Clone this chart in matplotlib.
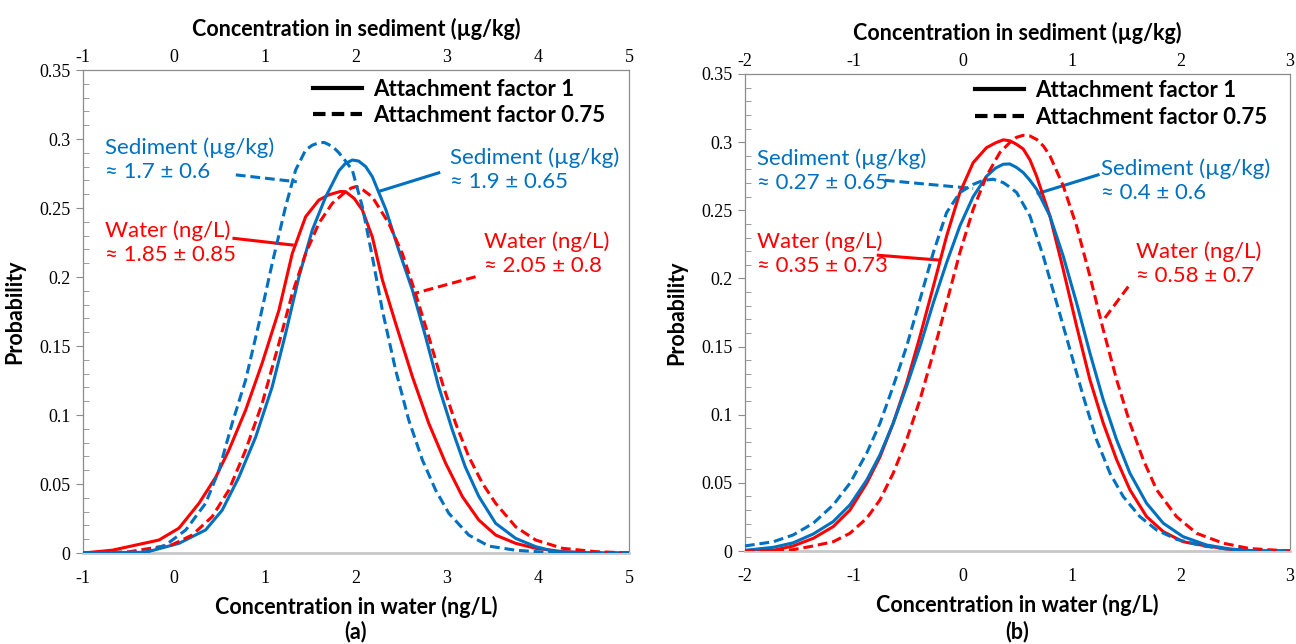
import matplotlib
matplotlib.use("Agg")
import matplotlib.pyplot as plt
from matplotlib.lines import Line2D
from matplotlib.ticker import MultipleLocator

plt.rcParams["axes.unicode_minus"] = False

# ---- panel (a) curves ----
a_water1_x = [-1.0, -0.68, -0.165, 0.055, 0.275, 0.46, 0.604, 0.788, 0.97, 1.154, 1.30, 1.447, 1.593, 1.70, 1.777,
              1.83, 1.887, 1.98, 2.07, 2.18, 2.29, 2.436, 2.62, 2.80, 2.986, 3.17, 3.35, 3.535, 3.755, 3.975,
              4.27, 4.6, 5.0]
a_water1_y = [0.0, 0.002, 0.0094, 0.018, 0.036, 0.055, 0.0746, 0.1036, 0.1377, 0.176, 0.217, 0.2437, 0.2558, 0.2595, 0.261,
              0.262, 0.2618, 0.257, 0.2486, 0.229, 0.198, 0.1664, 0.1278, 0.094, 0.065, 0.0408, 0.0239, 0.013, 0.007, 0.0034,
              0.001, 0.0, 0.0]

a_sed1_x = [-1.0, -0.31, 0.055, 0.348, 0.53, 0.714, 0.898, 1.08, 1.227, 1.374, 1.52, 1.667, 1.813, 1.88, 1.96, 2.03,
            2.107, 2.18, 2.33, 2.47, 2.62, 2.765, 2.91, 3.06, 3.2, 3.35, 3.535, 3.755, 3.975, 4.19, 4.6, 5.0]
a_sed1_y = [0.0, 0.0005, 0.007, 0.0167, 0.031, 0.055, 0.084, 0.1205, 0.159, 0.2002, 0.234, 0.258, 0.277, 0.282, 0.2848, 0.284,
            0.280, 0.2727, 0.2486, 0.2196, 0.1906, 0.1568, 0.1205, 0.089, 0.0626, 0.041, 0.0215, 0.0106, 0.0046, 0.001, 0.0, 0.0]

a_water075_x = [-1.0, -0.5, -0.02, 0.2, 0.42, 0.604, 0.788, 0.97, 1.154, 1.30, 1.447, 1.593, 1.74, 1.887, 1.95, 2.0,
                2.08, 2.18, 2.36, 2.51, 2.655, 2.80, 2.95, 3.095, 3.24, 3.39, 3.535, 3.755, 3.975, 4.27, 4.63, 5.0]
a_water075_y = [0.0, 0.0008, 0.006, 0.013, 0.0263, 0.0457, 0.0746, 0.1085, 0.152, 0.188, 0.217, 0.239, 0.2534, 0.2618, 0.2645, 0.2655,
                0.263, 0.258, 0.239, 0.217, 0.188, 0.1568, 0.123, 0.094, 0.0698, 0.0505, 0.036, 0.019, 0.0094, 0.0034, 0.001, 0.0]

a_sed075_x = [-1.0, -0.31, -0.09, 0.13, 0.348, 0.495, 0.64, 0.788, 0.934, 1.08, 1.227, 1.337, 1.447, 1.52, 1.593, 1.65,
              1.70, 1.76, 1.813, 1.88, 1.96, 2.07, 2.18, 2.29, 2.436, 2.58, 2.73, 2.875, 3.02, 3.24, 3.46, 3.755, 4.2, 5.0]
a_sed075_y = [0.0, 0.0008, 0.0058, 0.0167, 0.036, 0.060, 0.094, 0.1254, 0.1664, 0.21, 0.251, 0.2775, 0.292, 0.2955, 0.2973, 0.2975,
              0.296, 0.2935, 0.290, 0.2845, 0.2775, 0.251, 0.2147, 0.176, 0.1326, 0.0964, 0.0674, 0.0457, 0.0288, 0.013, 0.005, 0.002,
              0.0, 0.0]

# ---- panel (b) curves ----
b_water1_x = [-2.0, -1.74, -1.557, -1.373, -1.19, -1.037, -0.883, -0.761, -0.64, -0.517, -0.394, -0.272, -0.15, -0.028,
              0.094, 0.217, 0.30, 0.37, 0.43, 0.49, 0.553, 0.615, 0.676, 0.798, 0.92, 1.043, 1.165, 1.287, 1.41, 1.532,
              1.685, 1.838, 2.02, 2.236, 2.45, 2.7, 3.0]
b_water1_y = [0.0, 0.0005, 0.0037, 0.0093, 0.0179, 0.030, 0.0497, 0.069, 0.0937, 0.123, 0.1575, 0.194, 0.231, 0.263,
              0.285, 0.296, 0.2995, 0.3017, 0.301, 0.2985, 0.295, 0.287, 0.275, 0.2458, 0.2066, 0.165, 0.1257, 0.0939, 0.067,
              0.0449, 0.0252, 0.0142, 0.0068, 0.0037, 0.0012, 0.0, 0.0]

b_sed1_x = [-2.0, -1.74, -1.557, -1.373, -1.19, -1.037, -0.883, -0.761, -0.64, -0.517, -0.394, -0.272, -0.15, -0.028,
            0.094, 0.217, 0.30, 0.37, 0.43, 0.49, 0.553, 0.615, 0.676, 0.798, 0.92, 1.043, 1.165, 1.287, 1.41, 1.532,
            1.685, 1.838, 2.02, 2.236, 2.45, 2.7, 3.0]
b_sed1_y = [0.0005, 0.0027, 0.006, 0.0125, 0.0216, 0.0338, 0.052, 0.0706, 0.0937, 0.1208, 0.150, 0.182, 0.2115, 0.2385,
            0.260, 0.275, 0.281, 0.2838, 0.284, 0.2815, 0.2777, 0.272, 0.2654, 0.2458, 0.2164, 0.182, 0.1453, 0.111, 0.0816,
            0.0571, 0.035, 0.0204, 0.0105, 0.0044, 0.0015, 0.0, 0.0]

b_water075_x = [-2.0, -1.74, -1.557, -1.373, -1.19, -1.037, -0.883, -0.761, -0.64, -0.517, -0.394, -0.272, -0.15, -0.028,
                0.094, 0.217, 0.339, 0.43, 0.49, 0.553, 0.615, 0.676, 0.74, 0.798, 0.92, 1.043, 1.165, 1.287, 1.41, 1.532,
                1.654, 1.777, 1.96, 2.144, 2.389, 2.63, 3.0]
b_water075_y = [0.0, 0.0, 0.001, 0.0037, 0.0068, 0.013, 0.024, 0.0375, 0.057, 0.0816, 0.111, 0.1453, 0.182, 0.2189,
                0.2507, 0.2752, 0.2924, 0.2997, 0.3035, 0.305, 0.3045, 0.302, 0.297, 0.29, 0.268, 0.2384, 0.2017, 0.1625, 0.1257,
                0.0939, 0.067, 0.0449, 0.0252, 0.013, 0.0057, 0.0018, 0.0]

b_sed075_x = [-2.0, -1.74, -1.557, -1.373, -1.19, -1.037, -0.883, -0.761, -0.64, -0.517, -0.394, -0.272, -0.15, -0.028,
              0.094, 0.18, 0.278, 0.37, 0.43, 0.493, 0.615, 0.737, 0.86, 0.982, 1.104, 1.226, 1.349, 1.471, 1.624, 1.777,
              1.96, 2.2, 2.45, 2.7, 3.0]
b_sed075_y = [0.0037, 0.0068, 0.0118, 0.0204, 0.0338, 0.0497, 0.0718, 0.0937, 0.1208, 0.150, 0.1845, 0.2189, 0.2483, 0.263,
              0.269, 0.2718, 0.2728, 0.2703, 0.267, 0.263, 0.2458, 0.2164, 0.182, 0.1478, 0.1135, 0.0816, 0.0571, 0.0399,
              0.0252, 0.0154, 0.0086, 0.0037, 0.0012, 0.0, 0.0]

# ---- annotation texts ----
a_labels = ["Sediment (µg/kg)\n≈ 1.7 ± 0.6", "Sediment (µg/kg)\n≈ 1.9 ± 0.65",
            "Water (ng/L)\n≈ 1.85 ± 0.85", "Water (ng/L)\n≈ 2.05 ± 0.8"]
b_labels = ["Sediment (µg/kg)\n≈ 0.27 ± 0.65", "Sediment (µg/kg)\n≈ 0.4 ± 0.6",
            "Water (ng/L)\n≈ 0.35 ± 0.73", "Water (ng/L)\n≈ 0.58 ± 0.7"]
legend_labels = ["Attachment factor 1", "Attachment factor 0.75"]

RED = "#FF0000"
BLUE = "#0070C0"
GRAY = "#8c8c8c"
SANS = ["Lato", "DejaVu Sans"]
SERIF = "Liberation Serif"
DASH = (0, (3.2, 1.6))
LW = 2.2


def estilo(ax, xmin, xmax, leg_x, leg_y):
    ax.set_xlim(xmin, xmax)
    ax.set_ylim(0, 0.35)
    ax.yaxis.set_minor_locator(MultipleLocator(0.01))
    ax.xaxis.set_major_locator(MultipleLocator(1))
    ax.set_yticks([0, 0.05, 0.1, 0.15, 0.2, 0.25, 0.3, 0.35])
    ax.set_yticklabels(["0", "0.05", "0.1", "0.15", "0.2", "0.25", "0.3", "0.35"])
    for s in ax.spines.values():
        s.set_color(GRAY)
        s.set_linewidth(0.9)
    ax.spines["bottom"].set_color("#c8c8c8")
    ax.spines["bottom"].set_linewidth(2)
    ax.tick_params(axis="y", which="major", direction="out", length=5, color=GRAY,
                   labelsize=13, pad=4, labelfontfamily=SERIF)
    ax.tick_params(axis="y", which="minor", direction="in", length=4, color=GRAY)
    ax.tick_params(axis="x", which="major", length=0, labelsize=13, pad=12,
                   labelfontfamily=SERIF)
    ax.set_xlabel("Concentration in water (ng/L)", fontsize=15.5, fontweight="bold",
                  family=SANS, labelpad=7)
    ax.set_ylabel("Probability", fontsize=15.5, fontweight="bold", family=SANS, labelpad=10)

    top = ax.twiny()
    top.set_xlim(xmin, xmax)
    top.xaxis.set_major_locator(MultipleLocator(1))
    top.tick_params(axis="x", length=0, labelsize=13, pad=3, labelfontfamily=SERIF)
    top.set_xlabel("Concentration in sediment (µg/kg)", fontsize=15.5, fontweight="bold",
                   family=SANS, labelpad=9)
    for s in top.spines.values():
        s.set_visible(False)

    # legenda de estilos de linha
    leg = [Line2D([0], [0], color="black", lw=3),
           Line2D([0], [0], color="black", lw=3, linestyle=(0, (3, 1.5)))]
    ax.legend(leg, legend_labels, loc="upper left", bbox_to_anchor=(leg_x, leg_y),
              frameon=False, prop={"family": SANS, "weight": "bold", "size": 16},
              handlelength=2.2, handletextpad=0.5, labelspacing=0.25, borderpad=0,
              borderaxespad=0)


def nota(ax, texto, pos, p0, p1, cor, ls):
    ax.text(pos[0], pos[1], texto, color=cor, fontsize=16, family=SANS,
            ha="left", va="center", linespacing=1.25)
    ax.plot([p0[0], p1[0]], [p0[1], p1[1]], color=cor, lw=LW, linestyle=ls)


fig = plt.figure(figsize=(12.96, 6.44), dpi=100)
ax_a = fig.add_axes([0.064, 0.1413, 0.4213, 0.75])
ax_b = fig.add_axes([0.5748, 0.1444, 0.4205, 0.7407])

# painel (a)
ax_a.plot(a_water1_x, a_water1_y, color=RED, lw=LW, zorder=3)
ax_a.plot(a_sed1_x, a_sed1_y, color=BLUE, lw=LW, zorder=3)
ax_a.plot(a_water075_x, a_water075_y, color=RED, lw=LW, linestyle=DASH, zorder=3)
ax_a.plot(a_sed075_x, a_sed075_y, color=BLUE, lw=LW, linestyle=DASH, zorder=3)
estilo(ax_a, -1, 5, 0.421, 0.982)
nota(ax_a, a_labels[0], (-0.758, 0.2851), (0.68, 0.274), (1.35, 0.269), BLUE, DASH)
nota(ax_a, a_labels[1], (3.033, 0.2775), (2.91, 0.2755), (2.25, 0.262), BLUE, "-")
nota(ax_a, a_labels[2], (-0.758, 0.2246), (0.66, 0.228), (1.30, 0.2232), RED, "-")
nota(ax_a, a_labels[3], (3.407, 0.217), (3.315, 0.2002), (2.637, 0.188), RED, DASH)

# painel (b)
ax_b.plot(b_water1_x, b_water1_y, color=RED, lw=LW, zorder=3)
ax_b.plot(b_sed1_x, b_sed1_y, color=BLUE, lw=LW, zorder=3)
ax_b.plot(b_water075_x, b_water075_y, color=RED, lw=LW, linestyle=DASH, zorder=3)
ax_b.plot(b_sed075_x, b_sed075_y, color=BLUE, lw=LW, linestyle=DASH, zorder=3)
estilo(ax_b, -2, 3, 0.422, 0.987)
nota(ax_b, b_labels[0], (-1.89, 0.2788), (-0.716, 0.272), (0.094, 0.266), BLUE, DASH)
nota(ax_b, b_labels[1], (1.266, 0.2715), (1.24, 0.276), (0.69, 0.2624), BLUE, "-")
nota(ax_b, b_labels[2], (-1.89, 0.2183), (-0.777, 0.217), (-0.224, 0.2135), RED, "-")
nota(ax_b, b_labels[3], (1.592, 0.2106), (1.517, 0.194), (1.30, 0.1707), RED, DASH)

fig.text(0.2744, 0.003, "(a)", ha="center", va="bottom", fontsize=15.5, fontweight="bold", family=SANS)
fig.text(0.7848, 0.003, "(b)", ha="center", va="bottom", fontsize=15.5, fontweight="bold", family=SANS)

fig.savefig("out.png", dpi=100, facecolor="white")
